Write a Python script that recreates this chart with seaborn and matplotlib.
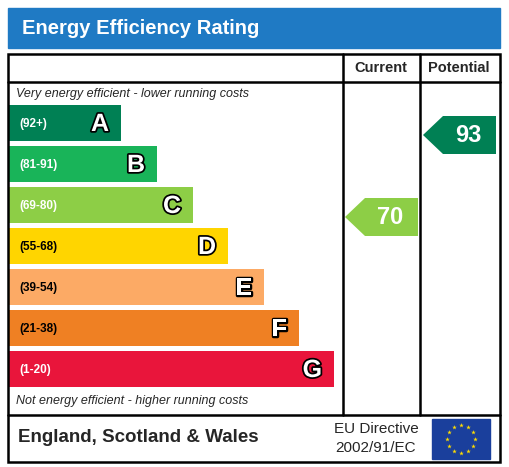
import numpy as np
import matplotlib
matplotlib.use("Agg")
import matplotlib.pyplot as plt
import matplotlib.patheffects as pe
from matplotlib.patches import Rectangle, Polygon
import seaborn as sns

sns.set_theme(style="white")
plt.rcParams['font.family'] = ['Liberation Sans', 'DejaVu Sans']

bands = ["A", "B", "C", "D", "E", "F", "G"]
ranges = ["(92+)", "(81-91)", "(69-80)", "(55-68)", "(39-54)", "(21-38)", "(1-20)"]
band_ends = [121, 157, 193, 228, 264, 299, 334]
colors = ["#008054", "#19b459", "#8dce46", "#ffd500", "#fcaa65", "#ef8023", "#e9153b"]
current = 70
potential = 93

def band_of(v):
    lims = [92, 81, 69, 55, 39, 21, 1]
    for i, l in enumerate(lims):
        if v >= l:
            return i
    return 6

fig = plt.figure(figsize=(5.09, 4.67), dpi=100)
ax = fig.add_axes([0, 0, 1, 1])
ax.set_xlim(0, 509); ax.set_ylim(467, 0); ax.axis("off")

# title
ax.add_patch(Rectangle((8, 8), 492, 40, color="#1f7ac4"))
ax.text(22, 29, "Energy Efficiency Rating", color="white", fontsize=14.5, fontweight="bold", va="center")

# frame
lw = 1.8
ax.add_patch(Rectangle((8, 54), 492, 408, fill=False, ec="black", lw=lw, zorder=6))
ax.plot([8, 500], [82, 82], color="black", lw=lw)
ax.plot([8, 500], [415, 415], color="black", lw=lw)
ax.plot([343, 343], [54, 415], color="black", lw=lw)
ax.plot([420, 420], [54, 415], color="black", lw=lw)
ax.text(381, 68, "Current", fontsize=10.5, fontweight="bold", ha="center", va="center")
ax.text(459, 68, "Potential", fontsize=10.5, fontweight="bold", ha="center", va="center")
ax.text(16, 94, "Very energy efficient - lower running costs", fontsize=9, style="italic", va="center")
ax.text(16, 401, "Not energy efficient - higher running costs", fontsize=9, style="italic", va="center")

# bands
ys = 123 + 41 * np.arange(len(bands))
ax.barh(ys, np.array(band_ends) - 8, left=8, height=36, color=colors, linewidth=0)
for y, e, b, r, c in zip(ys, band_ends, bands, ranges, colors):
    tc = "white" if b in "ABCG" else "black"
    ax.text(19, y + 1, r, fontsize=8.5, fontweight="bold", color=tc, va="center")
    ax.text(e - 12, y + 1, b, fontsize=18, fontweight="bold", color="white", ha="right", va="center",
            path_effects=[pe.withStroke(linewidth=2.5, foreground="black")])

def arrow(x0, x1, val):
    i = band_of(val)
    y = ys[i] + 12
    h = 19
    ax.add_patch(Polygon([(x0, y), (x0 + 20, y - h), (x1, y - h), (x1, y + h), (x0 + 20, y + h)],
                         closed=True, color=colors[i], lw=0))
    ax.text((x0 + x1) / 2 + 9, y + 1, str(val), fontsize=17, fontweight="bold", color="white",
            ha="center", va="center")

arrow(345, 418, current)
arrow(423, 496, potential)

# footer
ax.text(18, 438, "England, Scotland & Wales", fontsize=13.5, fontweight="bold", va="center")
ax.text(376, 429, "EU Directive", fontsize=11, ha="center", va="center")
ax.text(376, 448, "2002/91/EC", fontsize=11, ha="center", va="center")
ax.add_patch(Rectangle((432, 419), 58, 40, color="#1a3f9c"))
ang = np.linspace(0, 2 * np.pi, 13)[:-1]
ax.scatter(461 + 14 * np.cos(ang), 439 + 14 * np.sin(ang), marker="*", s=12, color="#ffdd00",
           linewidths=0, zorder=5)

fig.savefig("out.png", dpi=100)
